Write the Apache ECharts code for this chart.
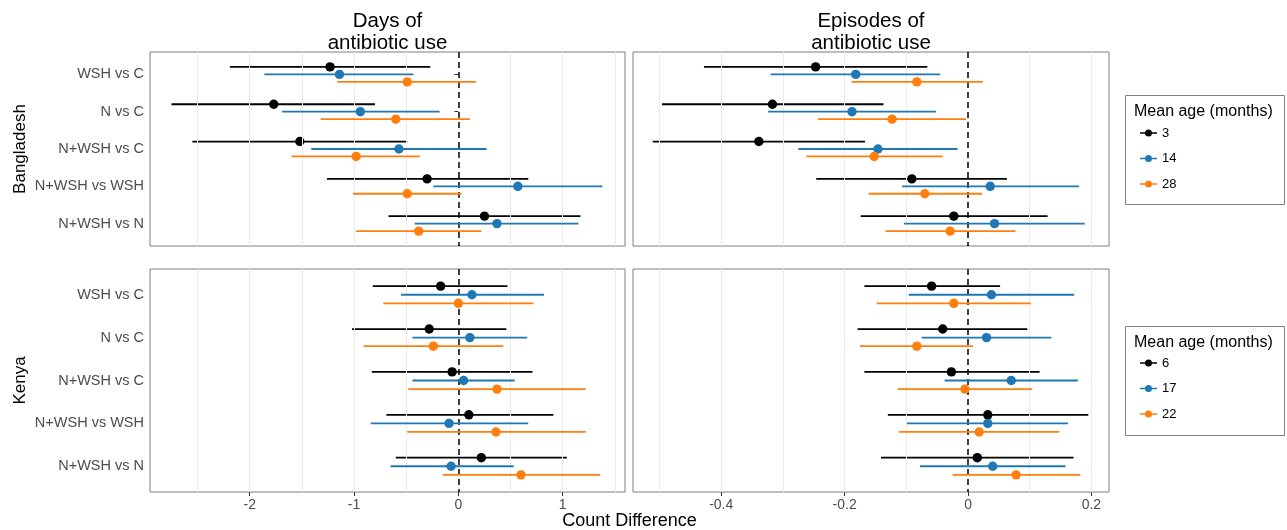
<!DOCTYPE html>
<html>
<head>
<meta charset="utf-8">
<script src="https://cdn.jsdelivr.net/npm/echarts@6/dist/echarts.min.js"></script>
<style>
html,body{margin:0;padding:0;background:#fff;}
#chart{width:1287px;height:530px;}
</style>
</head>
<body>
<div id="chart"></div>
<script>
// ---------------- data ----------------
const categories = ['WSH vs C', 'N vs C', 'N+WSH vs C', 'N+WSH vs WSH', 'N+WSH vs N'];
const agesBangladesh = ['3', '14', '28'];
const agesKenya = ['6', '17', '22'];
const columnTitles = ['Days of\nantibiotic use', 'Episodes of\nantibiotic use'];
const rowTitles = ['Bangladesh', 'Kenya'];
const daysTicks = [-2, -1, 0, 1];
const episodesTicks = [-0.4, -0.2, 0, 0.2];
const daysGrid = [-2.5, -2, -1.5, -1, -0.5, 0.5, 1, 1.5];
const episodesGrid = [-0.5, -0.4, -0.3, -0.2, -0.1, 0.1, 0.2];

// each row: [estimate, lower, upper] per comparison
const bdDaysAge3 = [[-1.23, -2.19, -0.27], [-1.77, -2.75, -0.80], [-1.52, -2.55, -0.49], [-0.30, -1.26, 0.67], [0.25, -0.67, 1.17]];
const bdDaysAge14 = [[-1.14, -1.86, -0.43], [-0.94, -1.69, -0.18], [-0.57, -1.41, 0.27], [0.57, -0.24, 1.38], [0.37, -0.42, 1.15]];
const bdDaysAge28 = [[-0.49, -1.16, 0.17], [-0.60, -1.32, 0.11], [-0.98, -1.60, -0.37], [-0.49, -1.01, 0.03], [-0.38, -0.98, 0.22]];

const bdEpisodesAge3 = [[-0.247, -0.428, -0.066], [-0.317, -0.496, -0.137], [-0.339, -0.511, -0.167], [-0.091, -0.246, 0.063], [-0.023, -0.174, 0.129]];
const bdEpisodesAge14 = [[-0.182, -0.320, -0.045], [-0.188, -0.324, -0.052], [-0.146, -0.275, -0.017], [0.036, -0.107, 0.180], [0.043, -0.104, 0.189]];
const bdEpisodesAge28 = [[-0.083, -0.189, 0.024], [-0.123, -0.243, -0.003], [-0.152, -0.262, -0.041], [-0.070, -0.161, 0.023], [-0.029, -0.134, 0.077]];

const keDaysAge6 = [[-0.17, -0.82, 0.47], [-0.28, -1.02, 0.46], [-0.06, -0.83, 0.71], [0.10, -0.69, 0.91], [0.22, -0.60, 1.04]];
const keDaysAge17 = [[0.13, -0.55, 0.82], [0.11, -0.44, 0.66], [0.05, -0.44, 0.54], [-0.09, -0.84, 0.67], [-0.07, -0.65, 0.53]];
const keDaysAge22 = [[0.00, -0.72, 0.72], [-0.24, -0.91, 0.43], [0.37, -0.48, 1.22], [0.36, -0.49, 1.22], [0.60, -0.15, 1.36]];

const keEpisodesAge6 = [[-0.059, -0.168, 0.052], [-0.041, -0.179, 0.096], [-0.027, -0.168, 0.116], [0.032, -0.130, 0.195], [0.015, -0.141, 0.171]];
const keEpisodesAge17 = [[0.038, -0.096, 0.172], [0.030, -0.075, 0.135], [0.070, -0.038, 0.178], [0.032, -0.099, 0.162], [0.040, -0.078, 0.158]];
const keEpisodesAge22 = [[-0.023, -0.148, 0.102], [-0.083, -0.175, 0.008], [-0.005, -0.114, 0.104], [0.018, -0.112, 0.148], [0.078, -0.025, 0.182]];

// ---------------- layout / style ----------------
const FONT = '"Liberation Sans", Arial, sans-serif';
const colors = ['#000000', '#1F77B4', '#FF7F0E'];
const dodge = [-0.2, 0, 0.2];
const panels = [
  { left: 150, top: 52, width: 475, height: 194, min: -2.956, max: 1.597, ticks: daysTicks, grid: daysGrid, names: agesBangladesh, sets: [bdDaysAge3, bdDaysAge14, bdDaysAge28], xLabels: false, yLabels: true },
  { left: 633, top: 52, width: 476, height: 194, min: -0.543, max: 0.2285, ticks: episodesTicks, grid: episodesGrid, names: agesBangladesh, sets: [bdEpisodesAge3, bdEpisodesAge14, bdEpisodesAge28], xLabels: false, yLabels: false },
  { left: 150, top: 269, width: 475, height: 223, min: -2.956, max: 1.597, ticks: daysTicks, grid: daysGrid, names: agesKenya, sets: [keDaysAge6, keDaysAge17, keDaysAge22], xLabels: true, yLabels: true },
  { left: 633, top: 269, width: 476, height: 223, min: -0.543, max: 0.2285, ticks: episodesTicks, grid: episodesGrid, names: agesKenya, sets: [keEpisodesAge6, keEpisodesAge17, keEpisodesAge22], xLabels: true, yLabels: false }
];

const grids = [], xAxes = [], yAxes = [], series = [];
const yVals = categories.map((c, i) => i + 1);

panels.forEach((p, pi) => {
  grids.push({ left: p.left, top: p.top, width: p.width, height: p.height, show: true, borderColor: '#7f7f7f', borderWidth: 1, backgroundColor: 'transparent', containLabel: false });
  xAxes.push({
    type: 'value', gridIndex: pi, min: p.min, max: p.max,
    axisLine: { show: false },
    splitLine: { show: false },
    axisTick: { show: p.xLabels, customValues: p.ticks, length: 4, lineStyle: { color: '#333', width: 1 } },
    axisLabel: { show: p.xLabels, customValues: p.ticks, color: '#4d4d4d', fontSize: 14, fontFamily: FONT, margin: 6,
      formatter: v => (Math.round(v * 10) / 10).toString() }
  });
  yAxes.push({
    type: 'value', gridIndex: pi, min: 0.4, max: 5.6, inverse: true,
    axisLine: { show: false },
    splitLine: { show: false },
    axisTick: { show: p.yLabels, customValues: yVals, length: 4, lineStyle: { color: '#333', width: 1 } },
    axisLabel: { show: p.yLabels, customValues: yVals, color: '#4d4d4d', fontSize: 14.5, fontFamily: FONT, margin: 6,
      formatter: v => categories[Math.round(v) - 1] || '' }
  });
  // background gridlines + zero reference line
  series.push({
    type: 'line', xAxisIndex: pi, yAxisIndex: pi, data: [], silent: true, z: 1,
    markLine: {
      silent: true, symbol: ['none', 'none'], animation: false, label: { show: false },
      lineStyle: { color: '#ebebeb', width: 1, type: 'solid' },
      data: p.grid.map(v => ({ xAxis: v }))
    }
  });
  series.push({
    type: 'line', xAxisIndex: pi, yAxisIndex: pi, data: [], silent: true, z: 3,
    markLine: {
      silent: true, symbol: ['none', 'none'], animation: false, label: { show: false },
      lineStyle: { color: '#000', width: 1.5, type: [6, 4] },
      data: [{ xAxis: 0 }]
    }
  });
  p.sets.forEach((set, gi) => {
    series.push({
      type: 'custom', name: p.names[gi], xAxisIndex: pi, yAxisIndex: pi, z: 4 + gi,
      itemStyle: { color: colors[gi] },
      encode: { x: [0, 1, 2], y: 3 },
      data: set.map((d, ci) => [d[0], d[1], d[2], ci + 1 + dodge[gi]]),
      renderItem: (params, api) => {
        const y = api.value(3);
        const c = api.coord([api.value(0), y]);
        const a = api.coord([api.value(1), y]);
        const b = api.coord([api.value(2), y]);
        return {
          type: 'group',
          children: [
            { type: 'line', shape: { x1: a[0], y1: a[1], x2: b[0], y2: b[1] }, style: { stroke: colors[gi], lineWidth: 1.8 } },
            { type: 'circle', shape: { cx: c[0], cy: c[1], r: 4.7 }, style: { fill: colors[gi] } }
          ]
        };
      }
    });
  });
});

// legend key: a short line with a dot in the middle (17 x 7 units)
const legendIcon = 'path://M0,2.75H5.2V4.25H0Z M11.8,2.75H17V4.25H11.8Z M12,3.5A3.5,3.5 0 1 1 5,3.5A3.5,3.5 0 1 1 12,3.5Z';
function legendAt(top, names) {
  return {
    orient: 'vertical', left: 1140, top: top, data: names.map(n => ({ name: n, icon: legendIcon })),
    itemWidth: 17, itemHeight: 7, itemGap: 11.5, itemTextGap: 10, padding: 0,
    textStyle: { fontSize: 13, lineHeight: 14, color: '#000', fontFamily: FONT },
    selectedMode: false
  };
}

const option = {
  animation: false,
  backgroundColor: '#ffffff',
  grid: grids,
  xAxis: xAxes,
  yAxis: yAxes,
  series: series,
  legend: [legendAt(126, agesBangladesh), legendAt(356, agesKenya)],
  graphic: [
    { type: 'text', x: 387.5, y: 32, style: { text: columnTitles[0], fontSize: 20.5, lineHeight: 22, fontFamily: FONT, fill: '#000', align: 'center', verticalAlign: 'middle' } },
    { type: 'text', x: 871, y: 32, style: { text: columnTitles[1], fontSize: 20.5, lineHeight: 22, fontFamily: FONT, fill: '#000', align: 'center', verticalAlign: 'middle' } },
    { type: 'text', x: 20, y: 149, rotation: Math.PI / 2, style: { text: rowTitles[0], fontSize: 17, fontFamily: FONT, fill: '#000', align: 'center', verticalAlign: 'middle' } },
    { type: 'text', x: 20, y: 380.5, rotation: Math.PI / 2, style: { text: rowTitles[1], fontSize: 17, fontFamily: FONT, fill: '#000', align: 'center', verticalAlign: 'middle' } },
    { type: 'text', x: 629.5, y: 521, style: { text: 'Count Difference', fontSize: 18, fontFamily: FONT, fill: '#000', align: 'center', verticalAlign: 'middle' } },
    { type: 'rect', shape: { x: 1125.5, y: 95.5, width: 159, height: 109 }, style: { fill: 'none', stroke: '#7f7f7f', lineWidth: 1 } },
    { type: 'text', x: 1134, y: 112, style: { text: 'Mean age (months)', fontSize: 16, fontFamily: FONT, fill: '#000', align: 'left', verticalAlign: 'middle' } },
    { type: 'rect', shape: { x: 1125.5, y: 326.5, width: 159, height: 109 }, style: { fill: 'none', stroke: '#7f7f7f', lineWidth: 1 } },
    { type: 'text', x: 1134, y: 343, style: { text: 'Mean age (months)', fontSize: 16, fontFamily: FONT, fill: '#000', align: 'left', verticalAlign: 'middle' } }
  ]
};

const chart = echarts.init(document.getElementById('chart'), null, { renderer: 'canvas' });
chart.setOption(option);
</script>
</body>
</html>
